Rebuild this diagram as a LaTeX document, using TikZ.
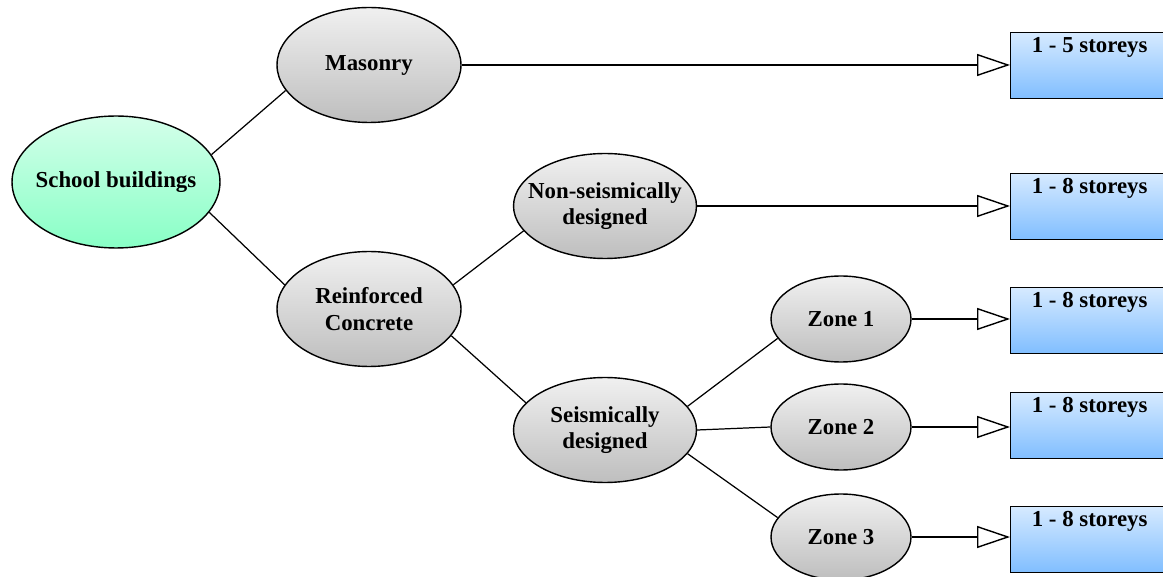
\documentclass[tikz,border=0pt]{standalone}
\usepackage{fontspec}
\setmainfont{Liberation Serif}
\usetikzlibrary{shapes,shapes.geometric,arrows.meta,calc}
\definecolor{mintTop}{RGB}{212,255,234}
\definecolor{mintBot}{RGB}{136,255,198}
\definecolor{greyTop}{RGB}{240,240,240}
\definecolor{greyBot}{RGB}{190,190,190}
\definecolor{skyTop}{RGB}{214,234,255}
\definecolor{skyBot}{RGB}{128,190,255}
\tikzset{
  x=0.02cm, y=-0.02cm,
  treenode/.style = {align=center, inner sep=0pt, text centered, font=\fontsize{13}{15}\selectfont\bfseries, draw=black, line width=0.8pt},
  oval_n/.style = {treenode, ellipse, inner xsep=-0.3cm},
  root_n/.style = {oval_n, minimum width=4.16cm, minimum height=2.64cm, top color=mintTop, bottom color=mintBot},
  type_n/.style = {oval_n, minimum width=3.68cm, minimum height=2.3cm, top color=greyTop, bottom color=greyBot},
  design_n/.style = {oval_n, minimum width=3.66cm, minimum height=2.1cm, top color=greyTop, bottom color=greyBot},
  zone_n/.style = {oval_n, minimum width=2.8cm, minimum height=1.72cm, top color=greyTop, bottom color=greyBot},
  storey_b/.style = {treenode, rectangle, anchor=north west, minimum width=3.16cm, minimum height=1.32cm, top color=skyTop, bottom color=skyBot},
  storey_t/.style = {anchor=north, inner sep=3pt, font=\fontsize{13}{15}\selectfont\bfseries},
  link/.style = {line width=0.7pt},
  flow/.style = {line width=0.7pt, -{Triangle[open, length=0.66cm, width=0.44cm, line width=0.8pt]}}
}
\begin{document}
\begin{tikzpicture}
\useasboundingbox (0,0) rectangle (1163,577);
\begin{scope}
\clip (0,0) rectangle (1163,577);
% ellipses
\node [root_n] (school) at (116,182) {School buildings};
\node [type_n] (masonry) at (369,65) {Masonry};
\node [type_n] (rc) at (369,309) {Reinforced\\Concrete};
\node [design_n] (nonseis) at (605,206) {Non-seismically\\designed};
\node [design_n] (seis) at (605,430) {Seismically\\designed};
\node [zone_n] (zone1) at (841,319) {Zone 1};
\node [zone_n] (zone2) at (841,427) {Zone 2};
\node [zone_n] (zone3) at (841,537) {Zone 3};
% storey boxes
\node [storey_b, label={[storey_t]north:1 - 5 storeys}] (box1) at (1010,32) {};
\node [storey_b, label={[storey_t]north:1 - 8 storeys}] (box2) at (1010,173) {};
\node [storey_b, label={[storey_t]north:1 - 8 storeys}] (box3) at (1010,287) {};
\node [storey_b, label={[storey_t]north:1 - 8 storeys}] (box4) at (1010,392) {};
\node [storey_b, label={[storey_t]north:1 - 8 storeys}] (box5) at (1010,506) {};
% links
\draw [link] (school.16) -- (masonry.197);
\draw [link] (school.342) -- (rc.164);
\draw [link] (rc.16) -- (nonseis.197);
\draw [link] (rc.342) -- (seis.161);
\draw [link] (seis.16) -- (zone1.197);
\draw [link] (seis.east) -- (zone2.west);
\draw [link] (seis.344) -- (zone3.163);
% arrows to boxes
\draw [flow] (masonry.east) -- (masonry.east -| box1.west);
\draw [flow] (nonseis.east) -- (nonseis.east -| box2.west);
\draw [flow] (zone1.east) -- (zone1.east -| box3.west);
\draw [flow] (zone2.east) -- (zone2.east -| box4.west);
\draw [flow] (zone3.east) -- (zone3.east -| box5.west);
\end{scope}
\end{tikzpicture}
\end{document}
